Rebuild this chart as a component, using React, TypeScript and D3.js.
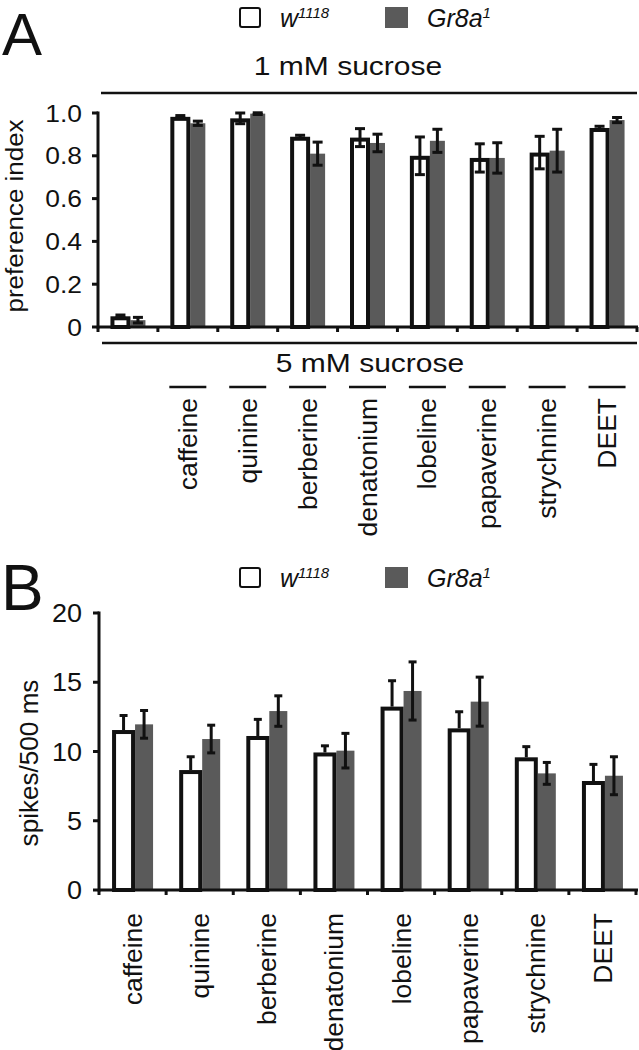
import React from "react";
import * as d3 from "d3";

// ---------- Data ----------
const catsA = ["", "caffeine", "quinine", "berberine", "denatonium", "lobeline", "papaverine", "strychnine", "DEET"];
const wA = [0.05, 0.982, 0.975, 0.889, 0.885, 0.80, 0.79, 0.815, 0.93];
const wAerr = [0.006, 0.006, 0.025, 0.007, 0.042, 0.088, 0.066, 0.076, 0.008];
const gA = [0.032, 0.952, 0.997, 0.81, 0.86, 0.87, 0.79, 0.824, 0.967];
const gAerr = [0.013, 0.01, 0.004, 0.054, 0.041, 0.054, 0.071, 0.10, 0.012];
const ticksA = [0, 0.2, 0.4, 0.6, 0.8, 1.0];
const tickLabelsA = ["0", "0.2", "0.4", "0.6", "0.8", "1.0"];

const catsB = ["caffeine", "quinine", "berberine", "denatonium", "lobeline", "papaverine", "strychnine", "DEET"];
const wB = [11.55, 8.66, 11.12, 9.93, 13.24, 11.67, 9.58, 7.87];
const wBerr = [1.05, 0.96, 1.2, 0.48, 1.87, 1.2, 0.77, 1.2];
const gB = [11.96, 10.9, 12.92, 10.06, 14.37, 13.6, 8.42, 8.25];
const gBerr = [1.0, 1.0, 1.1, 1.25, 2.1, 1.77, 0.79, 1.37];
const ticksB = [0, 5, 10, 15, 20];

const seriesNames = ["w", "Gr8a"];
const seriesSup = ["1118", "1"];

const GRAY = "#5a5a5a";
const INK = "#111";
const FONT = "'Liberation Sans', Arial, Helvetica, sans-serif";

// ---------- Helpers ----------
function T({ x, y, size, sx = 1, rot = 0, anchor = "start", children, italic = false, weight = "normal" }: any) {
  const tr = `translate(${x},${y})${rot ? ` rotate(${rot})` : ""} scale(${sx},1)`;
  return (
    <text transform={tr} fontSize={size} textAnchor={anchor} fontFamily={FONT}
      fontStyle={italic ? "italic" : "normal"} fontWeight={weight} fill={INK}>
      {children}
    </text>
  );
}

function Legend({ y }: { y: number }) {
  const xs = [239, 385];
  return (
    <g>
      <rect x={xs[0] + 1} y={y + 1} width={20} height={19} rx={2} fill="#fff" stroke={INK} strokeWidth={2} />
      <rect x={xs[1]} y={y} width={23} height={21} fill={GRAY} />
      <text x={280} y={y + 20} fontSize={25} fontStyle="italic" fontFamily={FONT} fill={INK}>
        {seriesNames[0]}
        <tspan fontSize={15} dy={-9}>{seriesSup[0]}</tspan>
      </text>
      <text x={427} y={y + 20} fontSize={25} fontStyle="italic" fontFamily={FONT} fill={INK}>
        {seriesNames[1]}
        <tspan fontSize={15} dy={-9}>{seriesSup[1]}</tspan>
      </text>
    </g>
  );
}

function ErrBar({ cx, y1, y2, cap }: any) {
  return (
    <g stroke={INK} strokeWidth={3}>
      <line x1={cx} x2={cx} y1={y1} y2={y2} />
      <line x1={cx - cap / 2} x2={cx + cap / 2} y1={y1} y2={y1} />
      <line x1={cx - cap / 2} x2={cx + cap / 2} y1={y2} y2={y2} />
    </g>
  );
}

function PanelA() {
  const y = d3.scaleLinear().domain([0, 1]).range([327, 113]);
  const x = d3.scaleBand<number>().domain(catsA.map((_, i) => i)).range([98, 637]).paddingInner(0).paddingOuter(0);
  const bw = x.bandwidth();
  const wW = 20, gW = 15, sw = 4;
  const left = (i: number) => (x(i) as number) + bw / 2 - (wW + gW) / 2;
  return (
    <g>
      <T x={2} y={55} size={60}>A</T>
      <Legend y={7} />
      <T x={348} y={75} size={25} sx={1.2} anchor="middle">1 mM sucrose</T>
      <line x1={101} x2={637} y1={93} y2={93} stroke={INK} strokeWidth={2.5} />
      {catsA.map((_, i) => {
        const l = left(i);
        return (
          <g key={i}>
            <rect x={l + wW} y={y(gA[i])} width={gW} height={y(0) - y(gA[i])} fill={GRAY} />
            <rect x={l + sw / 2} y={y(wA[i]) + sw / 2} width={wW - sw} height={y(0) - y(wA[i]) - sw / 2}
              fill="#fff" stroke={INK} strokeWidth={sw} />
          </g>
        );
      })}
      {catsA.map((_, i) => {
        const l = left(i);
        return (
          <g key={"e" + i}>
            <ErrBar cx={l + wW / 2} y1={y(wA[i] + wAerr[i])} y2={y(wA[i] - wAerr[i])} cap={10} />
            <ErrBar cx={l + wW + gW / 2} y1={y(gA[i] + gAerr[i])} y2={y(gA[i] - gAerr[i])} cap={10} />
          </g>
        );
      })}
      <line x1={98} x2={98} y1={y(1) - 1.5} y2={y(0) + 1.5} stroke={INK} strokeWidth={3} />
      {ticksA.map((t, i) => (
        <g key={"t" + i}>
          <line x1={92} x2={98} y1={y(t)} y2={y(t)} stroke={INK} strokeWidth={3} />
          <T x={82} y={y(t) + 8.5} size={24} sx={1.1} anchor="end">{tickLabelsA[i]}</T>
        </g>
      ))}
      <line x1={97} x2={638} y1={y(0)} y2={y(0)} stroke={INK} strokeWidth={3} />
      {catsA.map((_, i) => (
        <line key={"xt" + i} x1={x(i)} x2={x(i)} y1={y(0)} y2={y(0) + 5} stroke={INK} strokeWidth={3} />
      ))}
      <line x1={637} x2={637} y1={y(0)} y2={y(0) + 5} stroke={INK} strokeWidth={3} />
      <T x={23} y={216} size={24} sx={1.08} rot={-90} anchor="middle">preference index</T>
      <line x1={102} x2={637} y1={343} y2={343} stroke={INK} strokeWidth={2.5} />
      <T x={370} y={372} size={25} sx={1.2} anchor="middle">5 mM sucrose</T>
      {catsA.map((c, i) => {
        if (!c) return null;
        const cx = (x(i) as number) + bw / 2;
        return (
          <g key={"l" + i}>
            <line x1={cx - 18.5} x2={cx + 18.5} y1={387} y2={387} stroke={INK} strokeWidth={2.5} />
            <T x={cx + 9} y={398} size={25} sx={1.06} rot={-90} anchor="end">{c}</T>
          </g>
        );
      })}
    </g>
  );
}

function PanelB() {
  const y = d3.scaleLinear().domain([0, 20]).range([890, 613]);
  const x = d3.scaleBand<number>().domain(catsB.map((_, i) => i)).range([99, 636]).paddingInner(0).paddingOuter(0);
  const bw = x.bandwidth();
  const wW = 23, gW = 18, sw = 4;
  const left = (i: number) => (x(i) as number) + bw / 2 - (wW + gW) / 2;
  return (
    <g>
      <T x={1} y={610} size={64}>B</T>
      <Legend y={567} />
      {catsB.map((_, i) => {
        const l = left(i);
        return (
          <g key={i}>
            <rect x={l + wW} y={y(gB[i])} width={gW} height={y(0) - y(gB[i])} fill={GRAY} />
            <rect x={l + sw / 2} y={y(wB[i]) + sw / 2} width={wW - sw} height={y(0) - y(wB[i]) - sw / 2}
              fill="#fff" stroke={INK} strokeWidth={sw} />
          </g>
        );
      })}
      {catsB.map((_, i) => {
        const l = left(i);
        const cw = l + wW / 2;
        return (
          <g key={"e" + i}>
            <g stroke={INK} strokeWidth={3}>
              <line x1={cw} x2={cw} y1={y(wB[i] + wBerr[i])} y2={y(wB[i])} />
              <line x1={cw - 4} x2={cw + 4} y1={y(wB[i] + wBerr[i])} y2={y(wB[i] + wBerr[i])} />
            </g>
            <ErrBar cx={l + wW + gW / 2} y1={y(gB[i] + gBerr[i])} y2={y(gB[i] - gBerr[i])} cap={8} />
          </g>
        );
      })}
      <line x1={99} x2={99} y1={y(20) - 1.5} y2={y(0) + 1.5} stroke={INK} strokeWidth={3} />
      {ticksB.map((t, i) => (
        <g key={"t" + i}>
          <line x1={93} x2={99} y1={y(t)} y2={y(t)} stroke={INK} strokeWidth={3} />
          <T x={82} y={y(t) + 9} size={25} sx={1.08} anchor="end">{String(t)}</T>
        </g>
      ))}
      <line x1={98} x2={638} y1={y(0)} y2={y(0)} stroke={INK} strokeWidth={3} />
      {catsB.map((_, i) => (
        <line key={"xt" + i} x1={x(i)} x2={x(i)} y1={y(0)} y2={y(0) + 5} stroke={INK} strokeWidth={3} />
      ))}
      <line x1={636} x2={636} y1={y(0)} y2={y(0) + 5} stroke={INK} strokeWidth={3} />
      <T x={38} y={763} size={25} sx={1.045} rot={-90} anchor="middle">spikes/500 ms</T>
      {catsB.map((c, i) => {
        const cx = (x(i) as number) + bw / 2;
        return <T key={"l" + i} x={cx + 9.5} y={913} size={25} sx={1.06} rot={-90} anchor="end">{c}</T>;
      })}
    </g>
  );
}

export default function App() {
  return (
    <svg width={639} height={1050} viewBox="0 0 639 1050"
      style={{ position: "absolute", left: 0, top: 0, background: "#fff" }}>
      <rect width={639} height={1050} fill="#fff" />
      <PanelA />
      <PanelB />
    </svg>
  );
}
